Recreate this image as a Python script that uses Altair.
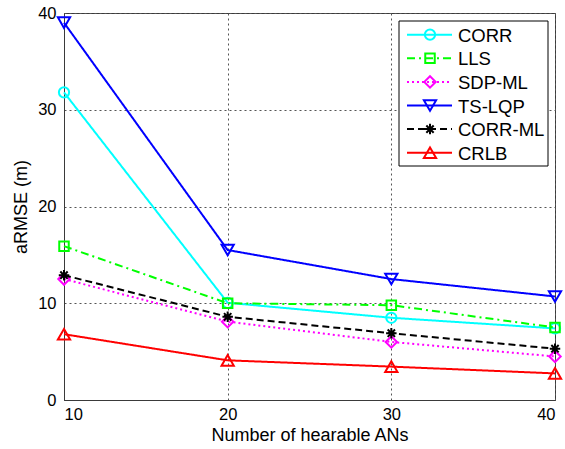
import altair as alt
import pandas as pd

# Number of hearable anchor nodes
anchors = [10, 20, 30, 40]

# aRMSE (m) for each estimator
corr = [31.8, 10.05, 8.5, 7.4]
lls = [15.9, 10.0, 9.8, 7.5]
sdp_ml = [12.5, 8.1, 6.0, 4.5]
ts_lqp = [39.0, 15.5, 12.5, 10.7]
corr_ml = [12.9, 8.6, 6.9, 5.3]
crlb = [6.8, 4.1, 3.45, 2.75]

x_ticks = [10, 20, 30, 40]
y_ticks = [0, 10, 20, 30, 40]

FONT = "Liberation Sans"
ASTERISK = "M-1,0L1,0M0,-1L0,1M-0.7,-0.7L0.7,0.7M-0.7,0.7L0.7,-0.7"

series = [
    ("CORR", corr, "#00FFFF", [1, 0], "circle", 105),
    ("LLS", lls, "#00FF00", [8, 4, 2, 4], "square", 90),
    ("SDP-ML", sdp_ml, "#FF00FF", [2, 3], "diamond", 130),
    ("TS-LQP", ts_lqp, "#0000FF", [1, 0], "triangle-down", 150),
    ("CORR-ML", corr_ml, "#000000", [7, 4], ASTERISK, 110),
    ("CRLB", crlb, "#FF0000", [1, 0], "triangle-up", 150),
]

x_enc = alt.X(
    "n:Q",
    scale=alt.Scale(domain=[10, 40], nice=False, zero=False),
    axis=alt.Axis(values=x_ticks, title="Number of hearable ANs", format="d"),
)
y_enc = alt.Y(
    "v:Q",
    scale=alt.Scale(domain=[0, 40], nice=False),
    axis=alt.Axis(values=y_ticks, title="aRMSE (m)", format="d"),
)

layers = []
for name, vals, color, dash, shape, size in series:
    df = pd.DataFrame({"n": anchors, "v": vals, "series": name})
    base = alt.Chart(df).encode(x=x_enc, y=y_enc)
    layers.append(base.mark_line(color=color, strokeWidth=2, strokeDash=dash))
    layers.append(
        base.mark_point(shape=shape, filled=False, color=color, strokeWidth=2,
                        size=size, opacity=1)
    )

# Legend panel drawn inside the plot area
one = pd.DataFrame({"k": [0]})
layers.append(
    alt.Chart(one).mark_rect(fill="white", stroke="black", strokeWidth=1).encode(
        x=alt.value(335), x2=alt.value(484), y=alt.value(8), y2=alt.value(153)
    )
)
for i, (name, vals, color, dash, shape, size) in enumerate(series):
    yp = 21.7 + i * 23.6
    layers.append(
        alt.Chart(one).mark_rule(color=color, strokeWidth=2, strokeDash=dash).encode(
            x=alt.value(343), x2=alt.value(388), y=alt.value(yp)
        )
    )
    layers.append(
        alt.Chart(one).mark_point(shape=shape, filled=False, color=color,
                                  strokeWidth=2, size=size, opacity=1).encode(
            x=alt.value(366), y=alt.value(yp)
        )
    )
    layers.append(
        alt.Chart(one).mark_text(text=name, align="left", baseline="middle",
                                 font=FONT, fontSize=18.5, color="black").encode(
            x=alt.value(394), y=alt.value(yp + 1)
        )
    )

chart = (
    alt.layer(*layers)
    .properties(
        width=491,
        height=387,
        autosize=alt.AutoSizeParams(type="none"),
        padding={"left": 64, "top": 13, "right": 10, "bottom": 49},
        background="white",
    )
    .configure_view(stroke="#3a3a3a", strokeWidth=1)
    .configure_axis(
        labelFont=FONT,
        titleFont=FONT,
        labelFontSize=16.5,
        titleFontSize=18,
        titleFontWeight="normal",
        labelColor="black",
        titleColor="black",
        domainColor="#3a3a3a",
        tickColor="#3a3a3a",
        ticks=False,
        grid=True,
        gridColor="#555555",
        gridDash=[2, 3],
        gridOpacity=1,
        gridWidth=1,
    )
    .configure_axisX(labelPadding=6, titlePadding=4)
    .configure_axisY(labelPadding=8, titlePadding=7)
)

chart.save("out.html", embed_options={"renderer": "svg", "actions": False})
